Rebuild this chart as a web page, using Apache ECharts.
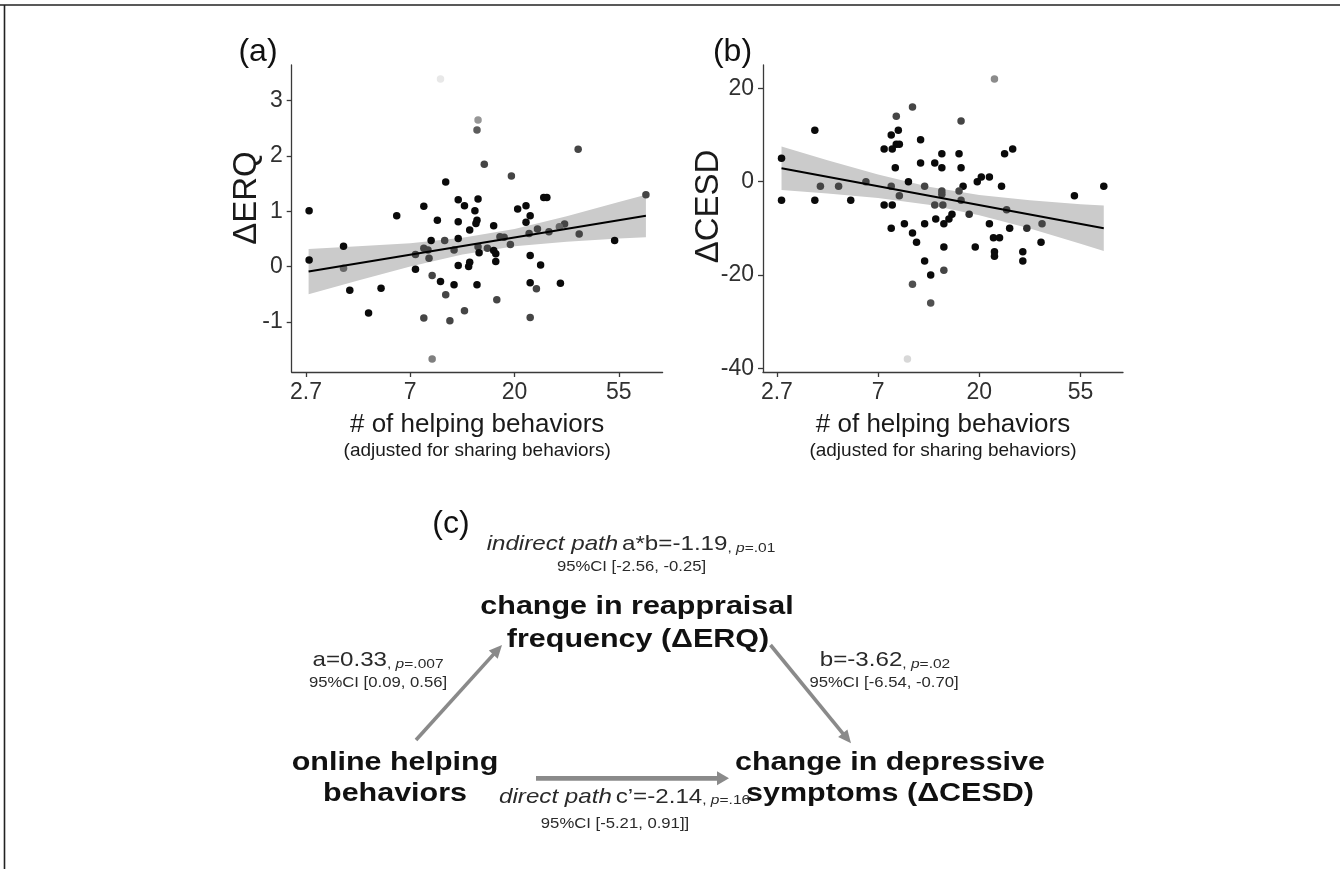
<!DOCTYPE html>
<html><head><meta charset="utf-8">
<script src="https://cdn.jsdelivr.net/npm/echarts@6/dist/echarts.min.js"></script>
<style>html,body{margin:0;padding:0;background:#fff}#c{width:1340px;height:869px}</style>
</head><body><div id="c"></div>
<script>
// ---------- axis ticks ----------
const xTickPos = [1, 2, 3, 4];                 // ln(# of helping behaviors)
const xTickLabels = ['2.7', '7', '20', '55'];
const erqTicks = [-1, 0, 1, 2, 3];
const cesdTicks = [-40, -20, 0, 20];

// ---------- panel (a): ln(helping), ΔERQ, weight ----------
const erqLnHelp = [2.29,2.65,2.64,3.61,2.71,2.97,2.34,1.03,1.87,2.13,2.46,2.52,2.65,2.62,2.64,2.63,2.46,2.26,2.57,2.80,
  3.03,3.11,3.15,3.11,3.28,3.31,3.96,3.62,3.48,3.43,3.33,3.22,3.14,2.90,2.86,2.96,2.74,2.65,2.46,2.33,
  2.20,2.13,2.17,2.42,2.66,2.80,2.82,2.05,2.18,1.36,1.03,1.36,1.42,1.72,1.60,2.05,2.21,2.29,2.42,2.34,
  2.46,2.56,2.57,2.64,2.82,2.83,2.52,2.38,2.13,3.15,3.25,3.15,3.21,3.44,3.15,4.26,2.21];
const erqDelta = [3.39,2.65,2.47,2.12,1.85,1.64,1.53,1.01,0.92,1.09,1.21,1.10,1.22,1.01,0.84,0.78,0.81,0.84,0.66,0.74,
  1.04,1.10,0.92,0.80,1.25,1.25,0.47,0.59,0.77,0.72,0.63,0.68,0.60,0.53,0.54,0.40,0.33,0.36,0.51,0.47,
  0.47,0.33,0.30,0.30,0.25,0.29,0.23,0.22,0.15,0.37,0.12,-0.03,-0.43,-0.39,-0.84,-0.05,-0.16,-0.27,-0.33,-0.51,
  0.02,0.00,0.08,-0.33,0.09,-0.60,-0.80,-0.98,-0.93,0.20,0.03,-0.29,-0.40,-0.30,-0.92,1.30,-1.67];
const erqWeight = [0.05,0.4,0.65,0.75,0.75,0.75,1,1,1,1,1,1,1,1,1,1,1,1,1,1,
  1,1,1,1,1,1,1,0.75,0.75,0.6,0.75,0.75,0.75,0.75,0.75,0.75,0.75,0.75,1,0.75,
  1,0.75,0.75,0.75,1,1,1,0.75,0.75,1,1,0.6,1,1,1,1,0.75,1,1,0.75,
  1,1,1,1,1,0.75,0.75,0.75,0.75,1,1,1,0.75,1,0.75,0.75,0.5];
// fitted line and 95% band
const erqLineX = [1.025, 4.26];
const erqLineY = [-0.09, 0.92];
const erqBandX = [1.025, 1.5, 2.0, 2.5, 3.0, 3.5, 4.0, 4.26];
const erqBandUpper = [0.32, 0.37, 0.42, 0.52, 0.68, 0.91, 1.17, 1.30];
const erqBandLower = [-0.50, -0.25, 0.00, 0.22, 0.37, 0.45, 0.51, 0.53];

// ---------- panel (b): ln(helping), ΔCESD, weight ----------
const cesdLnHelp = [3.15,2.34,2.18,2.82,1.375,2.13,2.20,2.42,2.18,2.21,2.06,2.14,3.25,3.33,1.046,2.63,2.80,2.42,2.56,2.17,
  2.63,2.82,1.88,2.30,2.98,3.02,3.10,1.43,1.61,2.13,2.46,3.22,2.84,4.23,2.63,2.63,2.80,2.21,3.94,1.046,
  1.375,1.73,2.82,2.06,2.14,2.56,2.64,3.27,2.90,2.73,2.70,2.57,2.26,2.46,2.65,3.10,3.62,2.13,3.30,3.47,
  2.34,2.38,3.14,3.20,3.61,2.65,2.96,3.15,3.15,3.43,3.43,2.46,2.65,2.52,2.34,2.52,2.29];
const cesdDelta = [22,16,14,13,11,10,11,9,8,8,7,7,6,7,5,6,6,4,4,3,
  3,3,0,0,0,1,1,-1,-1,-1,-1,-1,-1,-1,-2,-2.7,-2,-3,-3,-4,
  -4,-4,-4,-5,-5,-5,-5,-6,-7,-7,-8,-8,-9,-9,-9,-9,-9,-10,-10,-10,
  -11,-13,-12,-12,-13,-14,-14,-15,-16,-15,-17,-17,-19,-20,-22,-26,-38];
const cesdWeight = [0.45,0.75,0.75,0.75,1,1,1,1,1,1,1,1,1,1,1,1,1,1,1,1,
  1,1,0.75,1,1,1,1,0.75,0.75,0.75,0.75,1,1,1,0.75,0.75,0.75,0.75,1,1,
  1,1,0.75,1,1,0.75,0.75,0.75,0.85,1,1,1,1,1,1,1,0.75,1,1,0.85,
  1,1,1,1,1,1,1,1,1,1,1,1,0.75,1,0.7,0.7,0.12];
const cesdLineX = [1.046, 4.23];
const cesdLineY = [2.87, -9.99];
const cesdBandX = [1.046, 1.5, 2.0, 2.5, 3.0, 3.5, 4.0, 4.23];
const cesdBandUpper = [7.52, 4.61, 1.55, -1.07, -2.86, -4.01, -4.82, -5.09];
const cesdBandLower = [-1.78, -2.53, -3.51, -4.93, -7.18, -10.07, -13.30, -14.89];

// ---------- styling ----------
const FF = '"Liberation Sans", Arial, Helvetica, sans-serif';
const AX = '#3a3a3a', TX = '#303030';

const chart = echarts.init(document.getElementById('c'), null, {renderer: 'canvas'});

function xAxisCfg(gi) {
  return {
    type: 'value', gridIndex: gi, min: 0.863, max: 4.42,
    axisLine: {show: true, onZero: false, lineStyle: {color: AX, width: 1.3}},
    axisTick: {show: true, length: 5, customValues: xTickPos, lineStyle: {color: AX, width: 1.3}},
    axisLabel: {customValues: xTickPos, margin: 9, fontSize: 23, color: TX, fontFamily: FF,
      formatter: v => xTickLabels[xTickPos.indexOf(Math.round(v))] || ''},
    splitLine: {show: false},
    name: '{t|# of helping behaviors}\n{s|(adjusted for sharing behaviors)}',
    nameLocation: 'middle', nameGap: 37,
    nameTextStyle: {rich: {
      t: {fontSize: 26, lineHeight: 31, fontFamily: FF, color: '#1a1a1a'},
      s: {fontSize: 19, lineHeight: 22, fontFamily: FF, color: '#1a1a1a'}
    }}
  };
}
function yAxisCfg(gi, min, max, ticks, name, gap, pad) {
  return {
    type: 'value', gridIndex: gi, min: min, max: max,
    axisLine: {show: true, onZero: false, lineStyle: {color: AX, width: 1.3}},
    axisTick: {show: true, length: 5, customValues: ticks, lineStyle: {color: AX, width: 1.3}},
    axisLabel: {customValues: ticks, margin: 9, fontSize: 23, color: TX, fontFamily: FF},
    splitLine: {show: false},
    name: name, nameLocation: 'middle', nameGap: gap, nameMoveOverlap: false,
    nameTextStyle: {fontSize: 33, fontFamily: FF, color: '#1a1a1a', padding: [0, 0, 0, pad]}
  };
}
function bandSeries(gi, bx, up, lo) {
  return {
    type: 'custom', xAxisIndex: gi, yAxisIndex: gi, silent: true, z: 1,
    data: [[bx[0], up[0]]],
    renderItem: (params, api) => {
      const pts = [];
      for (let i = 0; i < bx.length; i++) pts.push(api.coord([bx[i], up[i]]));
      for (let i = bx.length - 1; i >= 0; i--) pts.push(api.coord([bx[i], lo[i]]));
      return {type: 'polygon', shape: {points: pts}, style: {fill: '#cbcbcb'}};
    }
  };
}
function scatterSeries(gi, xs, ys, ws) {
  return {
    type: 'scatter', xAxisIndex: gi, yAxisIndex: gi, z: 2, symbolSize: 7.5,
    itemStyle: {opacity: 1},
    data: xs.map((x, i) => [x, ys[i], ws[i]])
  };
}
function lineSeries(gi, xs, ys) {
  return {
    type: 'line', xAxisIndex: gi, yAxisIndex: gi, z: 3, showSymbol: false, silent: true,
    lineStyle: {color: '#000', width: 2},
    data: xs.map((x, i) => [x, ys[i]])
  };
}

function arrow(x1, y1, x2, y2, w, hl, hw) {
  const dx = x2 - x1, dy = y2 - y1, L = Math.hypot(dx, dy), ux = dx / L, uy = dy / L;
  const bx = x2 - ux * hl, by = y2 - uy * hl, px = -uy, py = ux;
  return [
    {type: 'line', shape: {x1: x1, y1: y1, x2: bx + ux * 1, y2: by + uy * 1}, style: {stroke: '#8a8a8a', lineWidth: w}},
    {type: 'polygon', shape: {points: [[x2, y2], [bx + px * hw / 2, by + py * hw / 2], [bx - px * hw / 2, by - py * hw / 2]]},
      style: {fill: '#8a8a8a'}}
  ];
}
function txt(x, y, text, size, opts) {
  return Object.assign({type: 'text', x: x, y: y, z: 10,
    style: {text: text, fontSize: size, fontFamily: FF, fill: '#111', align: 'center', verticalAlign: 'middle'}}, opts || {});
}
const richBase = {
  r: {fontSize: 21, fontFamily: FF, fill: '#2a2a2a', verticalAlign: 'bottom', lineHeight: 24},
  i: {fontSize: 21, fontFamily: FF, fontStyle: 'italic', fill: '#2a2a2a', verticalAlign: 'bottom', lineHeight: 24},
  s: {fontSize: 13.5, fontFamily: FF, fill: '#2a2a2a', verticalAlign: 'bottom', lineHeight: 24},
  si: {fontSize: 13.5, fontFamily: FF, fontStyle: 'italic', fill: '#2a2a2a', verticalAlign: 'bottom', lineHeight: 24}
};
function richTxt(x, y, text) {
  return {type: 'text', x: x, y: y, z: 10, scaleX: 1.15,
    style: {text: text, rich: richBase, align: 'center', verticalAlign: 'middle', fontFamily: FF}};
}
const ciStyle = (x, y, t) => txt(x, y, t, 14.5, {scaleX: 1.15, style: {text: t, fontSize: 14.5, fontFamily: FF, fill: '#2a2a2a', align: 'center', verticalAlign: 'middle'}});
const boldTxt = (x, y, t) => txt(x, y, t, 26.5, {scaleX: 1.15, style: {text: t, fontSize: 26.5, fontWeight: 'bold', fontFamily: FF, fill: '#111', align: 'center', verticalAlign: 'middle'}});

const graphics = [
  {type: 'line', shape: {x1: 0, y1: 5, x2: 1340, y2: 5}, style: {stroke: '#222', lineWidth: 1.6}},
  {type: 'line', shape: {x1: 4.5, y1: 5, x2: 4.5, y2: 869}, style: {stroke: '#222', lineWidth: 1.6}},
  txt(258, 52, '(a)', 32, {style: {text: '(a)', fontSize: 32, fontFamily: FF, fill: '#111', align: 'center', verticalAlign: 'middle'}}),
  txt(732.5, 52, '(b)', 32, {style: {text: '(b)', fontSize: 32, fontFamily: FF, fill: '#111', align: 'center', verticalAlign: 'middle'}}),
  txt(451, 524, '(c)', 32, {style: {text: '(c)', fontSize: 32, fontFamily: FF, fill: '#111', align: 'center', verticalAlign: 'middle'}}),
  richTxt(631, 543, '{i|indirect path} {r|a*b=-1.19}{s|, }{si|p}{s|=.01}'),
  ciStyle(631.5, 567, '95%CI [-2.56, -0.25]'),
  boldTxt(637, 606.7, 'change in reappraisal'),
  boldTxt(638, 639.7, 'frequency (\u0394ERQ)'),
  richTxt(378, 659, '{r|a=0.33}{s|, }{si|p}{s|=.007}'),
  ciStyle(378, 682.5, '95%CI [0.09, 0.56]'),
  richTxt(885, 659, '{r|b=-3.62}{s|, }{si|p}{s|=.02}'),
  ciStyle(884, 682.5, '95%CI [-6.54, -0.70]'),
  boldTxt(395, 762.7, 'online helping'),
  boldTxt(395, 793.7, 'behaviors'),
  boldTxt(890, 762.7, 'change in depressive'),
  boldTxt(890, 793.7, 'symptoms (\u0394CESD)'),
  richTxt(624.6, 795.5, '{i|direct path} {r|c\u2019=-2.14}{s|, }{si|p}{s|=.16}'),
  ciStyle(615, 823.5, '95%CI [-5.21, 0.91]]')
].concat(
  arrow(416, 740, 502, 645, 3.6, 13, 12),
  arrow(770.5, 645, 851, 743.3, 3.6, 13, 12),
  arrow(536, 778.3, 729, 778.3, 4.8, 12, 14)
);

chart.setOption({
  animation: false,
  backgroundColor: '#fff',
  grid: [
    {left: 291.7, top: 65, width: 370.9, height: 307},
    {left: 763, top: 65, width: 360, height: 307}
  ],
  xAxis: [xAxisCfg(0), xAxisCfg(1)],
  yAxis: [
    yAxisCfg(0, -1.906, 3.645, erqTicks, '\u0394ERQ', 28.5, 41),
    yAxisCfg(1, -40.8, 25, cesdTicks, '\u0394CESD', 38, 24)
  ],
  visualMap: [{type: 'continuous', show: false, seriesIndex: [1, 4], dimension: 2, min: 0, max: 1,
    inRange: {color: ['#f4f4f4', '#0a0a0a']}}],
  series: [
    bandSeries(0, erqBandX, erqBandUpper, erqBandLower),
    scatterSeries(0, erqLnHelp, erqDelta, erqWeight),
    lineSeries(0, erqLineX, erqLineY),
    bandSeries(1, cesdBandX, cesdBandUpper, cesdBandLower),
    scatterSeries(1, cesdLnHelp, cesdDelta, cesdWeight),
    lineSeries(1, cesdLineX, cesdLineY)
  ],
  graphic: graphics
});
</script>
</body></html>
